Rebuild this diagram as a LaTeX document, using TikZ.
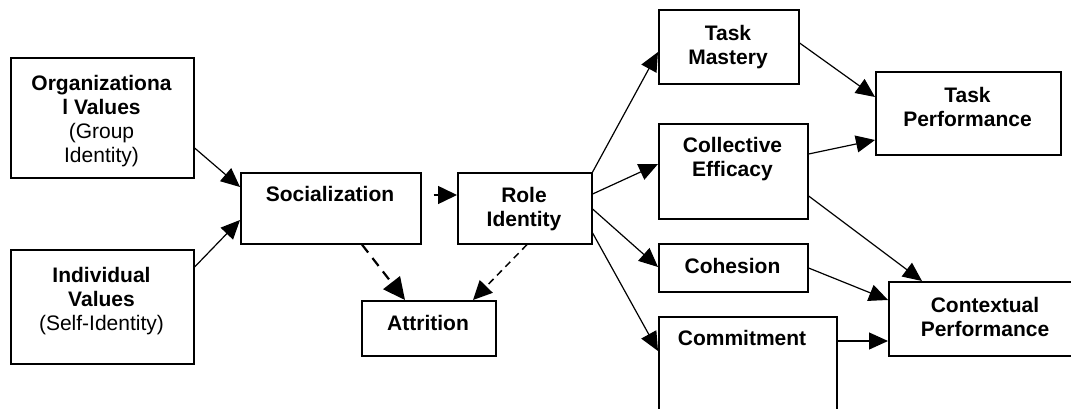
\documentclass[tikz,border=0pt]{standalone}
\usepackage{fontspec}
\setmainfont{Liberation Sans}
\usetikzlibrary{arrows.meta,calc}
\begin{document}
\begin{tikzpicture}[x=1pt,y=-1pt,
  box/.style={draw=black, line width=1.6pt, fill=none, inner sep=0pt, anchor=north west},
  lbl/.style={anchor=north, align=center, inner sep=0pt, font=\fontsize{21}{24}\selectfont\bfseries},
  con/.style={line width=1.2pt, -{Triangle[length=19pt,width=17pt]}},
  dashA/.style={line width=2.2pt, dash pattern=on 10pt off 7pt, -{Triangle[length=22pt,width=21pt]}},
  dashB/.style={line width=1.5pt, dash pattern=on 7pt off 5pt, -{Triangle[length=19pt,width=18pt]}}
]
\useasboundingbox (0,0) rectangle (1071,409);
\clip (0,0) rectangle (1071,409);
% boxes
\node[box, minimum width=183pt, minimum height=120pt] (org) at (10,57) {};
\node[box, minimum width=183pt, minimum height=114pt] (ind) at (10,249) {};
\node[box, minimum width=180pt, minimum height=71pt] (soc) at (240,172) {};
\node[box, minimum width=134pt, minimum height=71pt] (role) at (457,172) {};
\node[box, minimum width=134pt, minimum height=55pt] (att) at (361,300) {};
\node[box, minimum width=140pt, minimum height=74pt] (tm) at (658,9) {};
\node[box, minimum width=185pt, minimum height=83pt] (tp) at (875,71) {};
\node[box, minimum width=149pt, minimum height=95pt] (ce) at (658,123) {};
\node[box, minimum width=149pt, minimum height=48pt] (coh) at (658,243) {};
\node[box, minimum width=178pt, minimum height=110pt] (com) at (658,316) {};
\node[box, minimum width=194pt, minimum height=74pt] (cp) at (888,281) {};
% labels
\node[lbl] (orgT) at (101.5,75) {Organizationa\\l Values\\{\mdseries (Group}\\{\mdseries Identity)}};
\node[lbl] (indT) at (101.5,267) {Individual\\Values\\{\mdseries (Self-Identity)}};
\node[lbl] (socT) at (330,186) {Socialization};
\node[lbl] (roleT) at (524,187) {Role\\Identity};
\node[lbl] (attT) at (428,315) {Attrition};
\node[lbl] (tmT) at (728,25) {Task\\Mastery};
\node[lbl] (tpT) at (967.5,87) {Task\\Performance};
\node[lbl] (ceT) at (732.5,137) {Collective\\Efficacy};
\node[lbl] (cohT) at (732.5,258) {Cohesion};
\node[lbl] (comT) at (742,330) {Commitment};
\node[lbl] (cpT) at (985,297) {Contextual\\Performance};
% connectors
\draw[con] ($(org.north east)+(0,91)$) -- ($(soc.north west)+(0,15)$);
\draw[con] ($(ind.north east)+(0,18)$) -- ($(soc.north west)+(0,48)$);
\draw[line width=1.5pt, dash pattern=on 8pt off 4pt, shorten <=12pt, -{Triangle[length=19pt,width=18pt]}] ($(soc.north east)+(0,23)$) -- ($(role.north west)+(0,23)$);
\draw[dashA] ($(soc.south west)+(122,0)$) -- ($(att.north west)+(44,0)$);
\draw[dashB] ($(role.south west)+(70,0)$) -- ($(att.north west)+(112,0)$);
\draw[con] (role.north east) -- ($(tm.north west)+(0,43)$);
\draw[con] ($(role.north east)+(0,22)$) -- ($(ce.north west)+(0,41)$);
\draw[con] ($(role.north east)+(0,37)$) -- ($(coh.north west)+(0,24)$);
\draw[con] ($(role.north east)+(0,61)$) -- ($(com.north west)+(0,35)$);
\draw[con] ($(tm.north east)+(0,34)$) -- ($(tp.north west)+(0,26)$);
\draw[con] ($(ce.north east)+(0,31)$) -- ($(tp.north west)+(0,69)$);
\draw[con] ($(ce.north east)+(0,73)$) -- ($(cp.north west)+(34,0)$);
\draw[con] ($(coh.north east)+(0,25)$) -- ($(cp.north west)+(0,19)$);
\draw[con] ($(com.north east)+(0,25)$) -- ($(cp.north west)+(0,60)$);
\end{tikzpicture}
\end{document}
